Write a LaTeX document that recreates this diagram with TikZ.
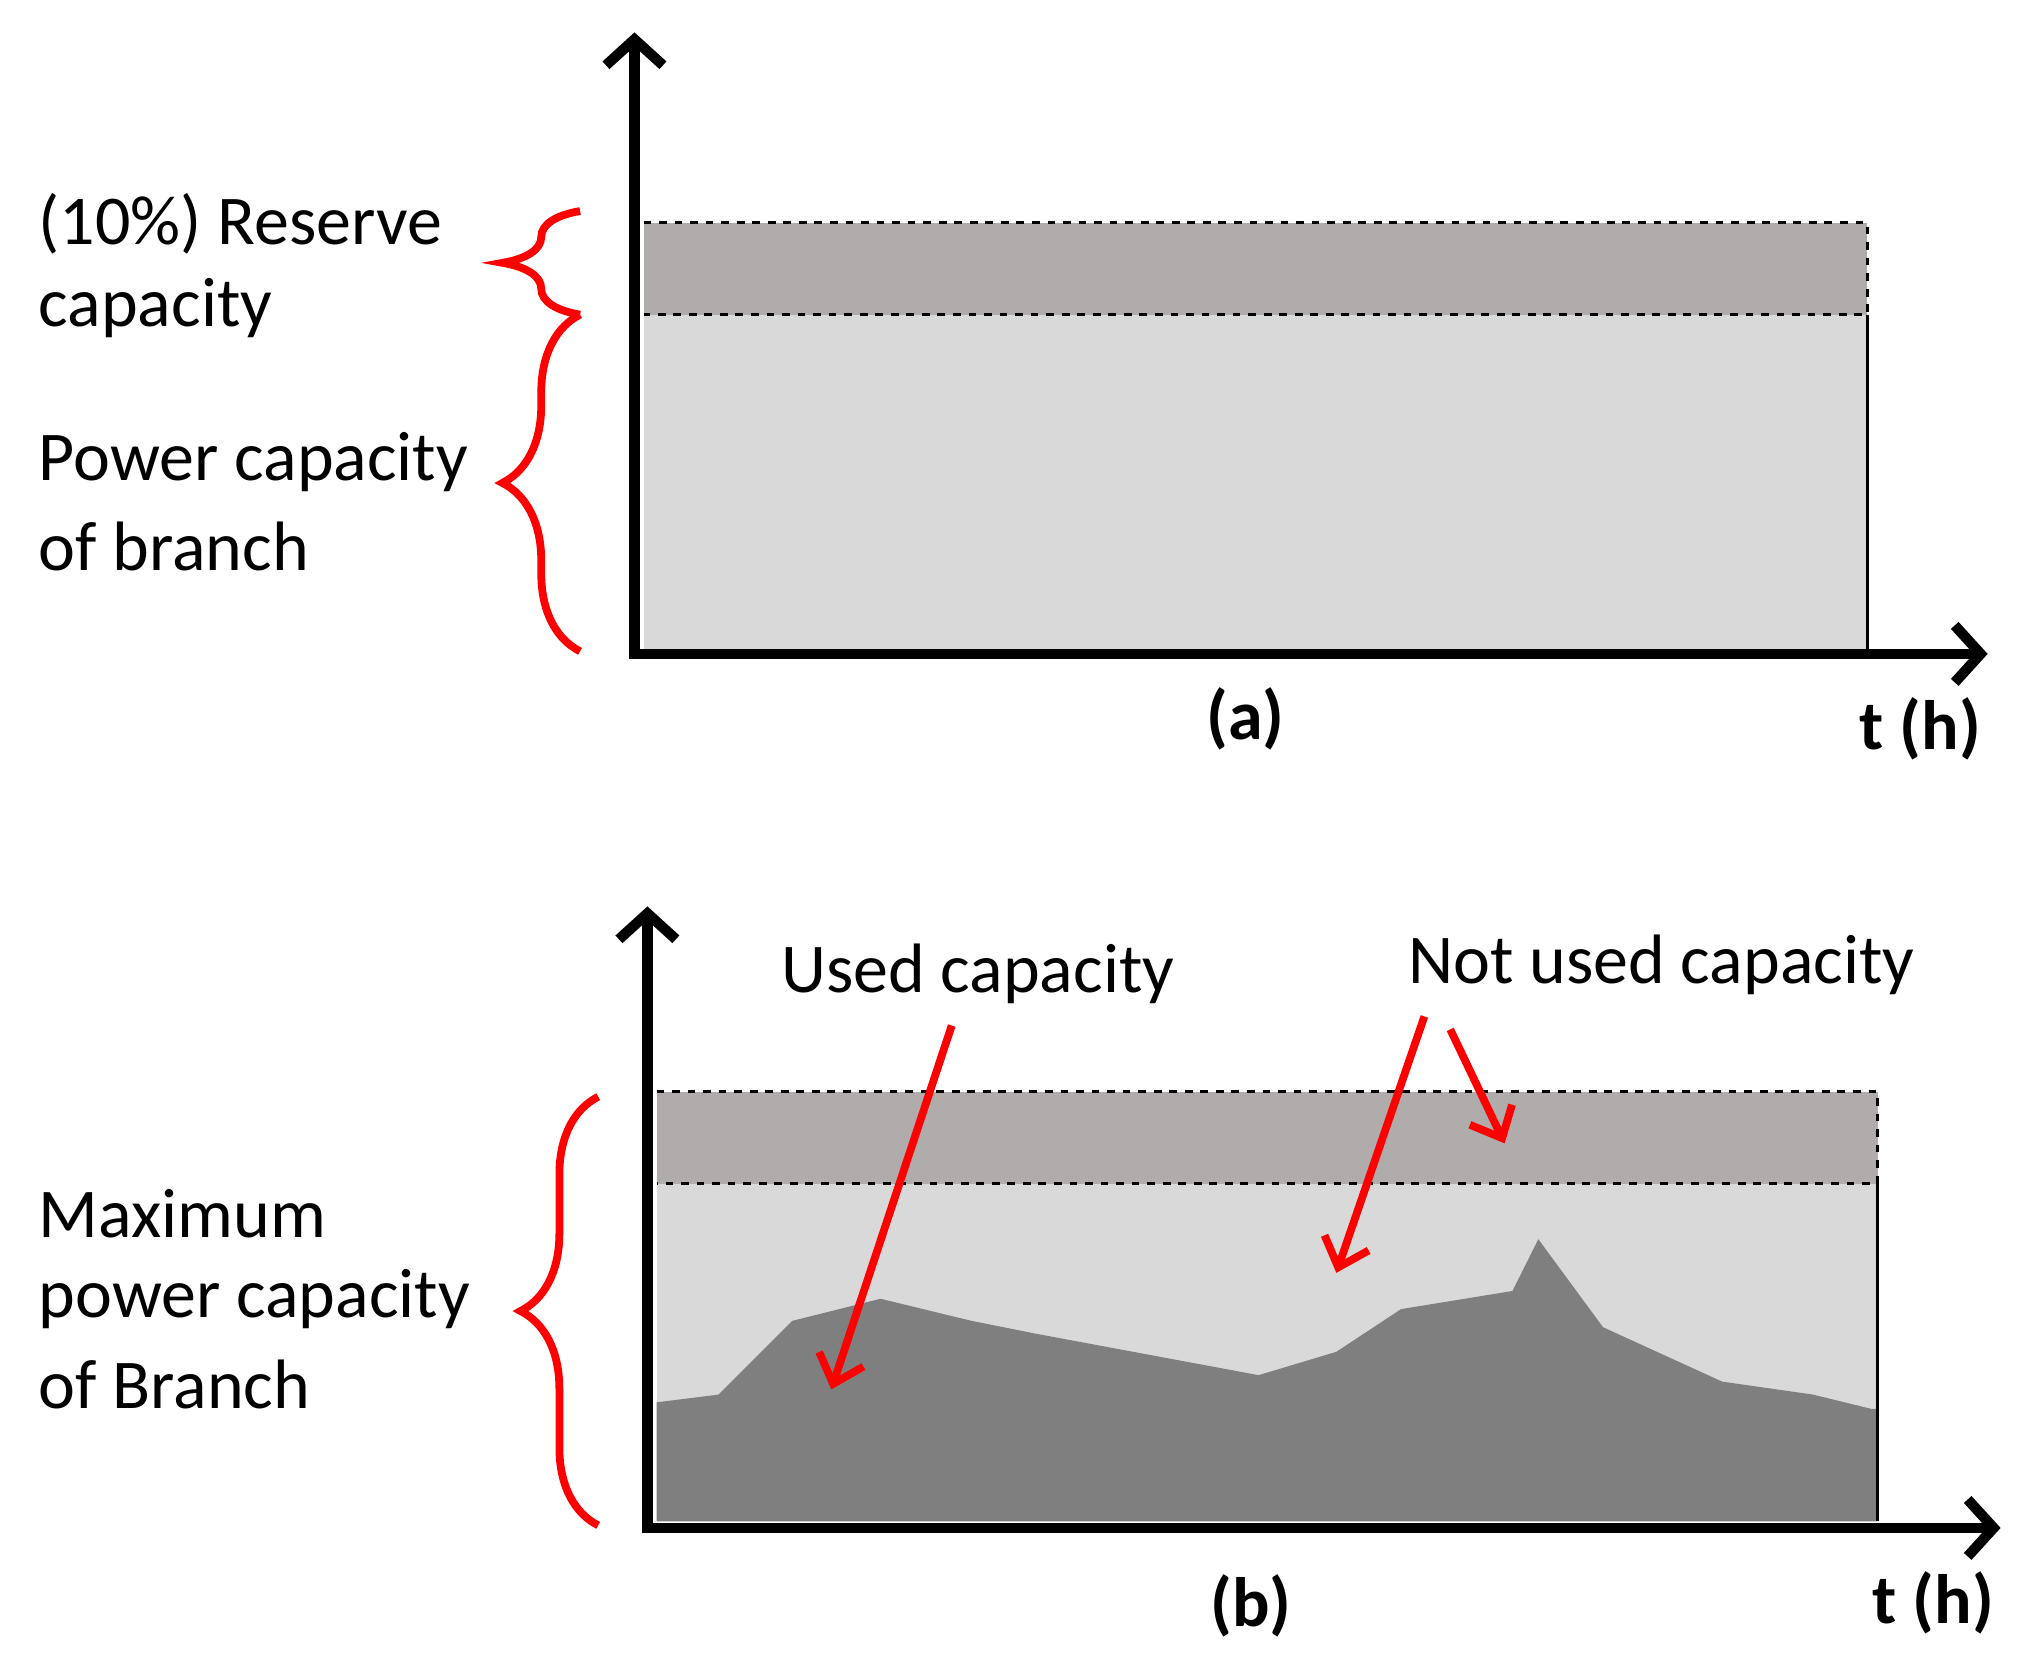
\documentclass[tikz,border=0pt]{standalone}
\usepackage{fontspec}
\setmainfont{Carlito}
\usetikzlibrary{positioning,decorations.pathreplacing,arrows.meta}
\definecolor{bandgray}{RGB}{176,172,171}
\definecolor{lightgray}{RGB}{217,217,217}
\definecolor{usedgray}{RGB}{127,127,127}
\tikzset{
  axis/.style={line width=4pt,-{Straight Barb[length=10pt,width=22pt,line width=4pt]}},
  lab/.style={anchor=west,inner sep=0.75pt,font=\fontsize{27}{32}\selectfont},
  tag/.style={inner sep=0.75pt,font=\fontsize{27}{32}\selectfont\bfseries},
  redbrace/.style={red,line width=3pt,decorate,decoration={brace,amplitude=30pt,aspect=0.5}},
  redarrow/.style={red,line width=3pt,-{Straight Barb[length=10pt,width=18pt,line width=3pt]}}
}
\begin{document}
\begin{tikzpicture}[x=0.5pt,y=0.5pt,yscale=-1,xscale=1]
\useasboundingbox (0,0) rectangle (1560,1277);

% panel (a)
\fill [lightgray] (497,243) rectangle (1442,503);
\fill [bandgray] (497,172) rectangle (1442,243);
\draw [line width=1pt] (1442,243) -- (1442,503);
\draw [line width=1pt,dashed] (497,172) -- (1442,172) -- (1442,243) -- (497,243);
\draw [axis] (490,507) -- (490,25);
\draw [axis] (486,505) -- (1535,505);

\draw [redbrace] (448,243) -- (448,163);
\draw [redbrace] (448,503) -- (448,243);

\node (resA) [lab] at (28,173) {(10\%) Reserve};
\node (resB) [lab] at (28,238) {capacity};
\node (powA) [lab] at (28,357) {Power capacity};
\node (powB) [lab] at (28,422) {of branch};
\node (tagA) [tag] at (962,555) {(a)};
\node (timeA) [tag] at (1483,563) {t (h)};

% panel (b)
\fill [lightgray] (507,914) rectangle (1450,1175);
\fill [bandgray] (507,843) rectangle (1450,914);
\fill [usedgray] (507,1083) -- (555,1077) -- (612,1020) -- (680,1003) -- (750,1020) -- (800,1030) -- (972,1062) -- (1032,1044) -- (1082,1011) -- (1168,997) -- (1188,957) -- (1238,1025) -- (1330,1067) -- (1400,1077) -- (1445,1088) -- (1450,1088) -- (1450,1175) -- (507,1175) -- cycle;
\draw [line width=1pt] (1450,914) -- (1450,1175);
\draw [line width=1pt,dashed] (507,843) -- (1450,843) -- (1450,914) -- (507,914);
\draw [axis] (500,1182) -- (500,700);
\draw [axis] (496,1180) -- (1545,1180);

\draw [redbrace] (462,1178) -- (462,847);

\node (maxA) [lab] at (28,937) {Maximum};
\node (maxB) [lab] at (28,1003) {power capacity};
\node (maxC) [lab] at (28,1069) {of Branch};
\node (used) [lab,anchor=center] at (755,752) {Used capacity};
\node (notused) [lab,anchor=center] at (1283,745) {Not used capacity};
\node (tagB) [tag] at (966,1240) {(b)};
\node (timeB) [tag] at (1493,1238) {t (h)};

\coordinate (usedEnd) at (642,1073);
\coordinate (freeEnd) at (1032,983);
\coordinate (bandEnd) at (1162,883);
\draw [redarrow] (735,792) -- (usedEnd);
\draw [redarrow] (1100,785) -- (freeEnd);
\draw [redarrow] (1120,795) -- (bandEnd);

\end{tikzpicture}
\end{document}
